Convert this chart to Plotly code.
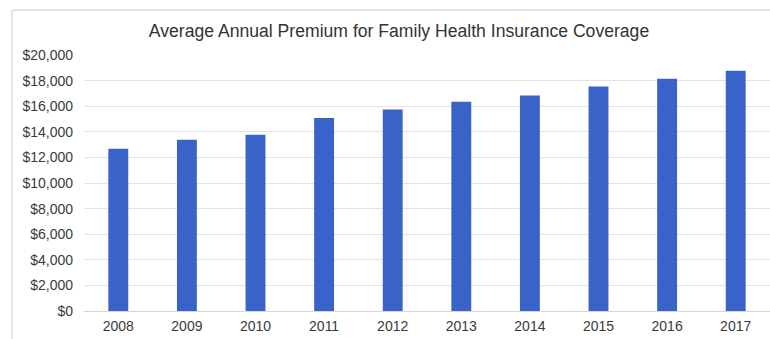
import plotly.graph_objects as go

# Average annual premium for family coverage, by year
years = ["2008", "2009", "2010", "2011", "2012", "2013", "2014", "2015", "2016", "2017"]
premiums = [12680, 13375, 13770, 15073, 15745, 16351, 16834, 17545, 18142, 18764]

tick_values = [0, 2000, 4000, 6000, 8000, 10000, 12000, 14000, 16000, 18000, 20000]
tick_labels = ["$0", "$2,000", "$4,000", "$6,000", "$8,000", "$10,000",
               "$12,000", "$14,000", "$16,000", "$18,000", "$20,000"]

W, H = 770, 339
L, R, T, B = 84, 0, 55, 28

fig = go.Figure(
    go.Bar(
        x=years,
        y=premiums,
        marker=dict(color="#3a63c9", line=dict(width=0)),
        hoverinfo="x+y",
    )
)

fig.update_layout(
    width=W,
    height=H,
    margin=dict(l=L, r=R, t=T, b=B),
    paper_bgcolor="white",
    plot_bgcolor="white",
    bargap=0.71,
    showlegend=False,
    font=dict(family="Liberation Sans, Arial, sans-serif", color="#3a3a3a", size=14),
    title=dict(
        text="Average Annual Premium for Family Health Insurance Coverage",
        x=399 / W,
        xanchor="center",
        y=1 - 31 / H,
        yanchor="middle",
        font=dict(size=17.6, color="#333333"),
    ),
    xaxis=dict(
        type="category",
        range=[-0.5, 9.5],
        showgrid=False,
        showline=False,
        zeroline=False,
        ticks="",
        ticklabelstandoff=5,
        tickfont=dict(size=14, color="#3a3a3a"),
    ),
    yaxis=dict(
        range=[0, 20000],
        tickvals=tick_values,
        ticktext=tick_labels,
        showgrid=True,
        gridcolor="#e3e3e3",
        gridwidth=1,
        zeroline=True,
        zerolinecolor="#d6d6d6",
        zerolinewidth=1,
        showline=False,
        ticks="",
        ticklabelstandoff=10,
        tickfont=dict(size=14, color="#3a3a3a"),
    ),
    shapes=[
        # light frame along the top and left of the chart card
        dict(type="line", xref="paper", yref="paper",
             x0=(12 - L) / (W - L - R), x1=1.0,
             y0=1 + (T - 10) / (H - T - B), y1=1 + (T - 10) / (H - T - B),
             line=dict(color="#dcdcdc", width=1.5)),
        dict(type="line", xref="paper", yref="paper",
             x0=(12 - L) / (W - L - R), x1=(12 - L) / (W - L - R),
             y0=1 + (T - 10) / (H - T - B), y1=-B / (H - T - B),
             line=dict(color="#dcdcdc", width=1.5)),
    ],
)

fig.write_html("out.html")
